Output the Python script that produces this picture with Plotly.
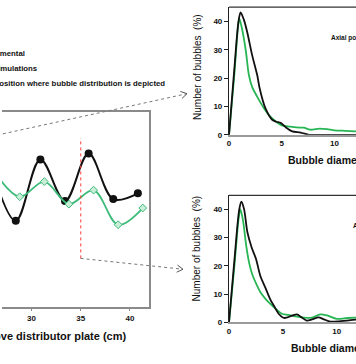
import math
import plotly.graph_objects as go

W, H = 356, 364

# ---- main chart data (height above distributor plate vs. value) ----
exp_height = [25.9, 28.4, 30.9, 33.4, 35.8, 38.3, 40.8]
exp_value = [3.60, 2.21, 3.79, 2.72, 3.94, 2.77, 2.92]
sim_height = [26.3, 28.8, 31.3, 33.8, 36.3, 38.8, 41.3]
sim_value = [3.45, 2.83, 3.22, 2.64, 3.00, 2.11, 2.54]
main_ticks = [30, 35, 40]
marked_height = 35

# ---- upper distribution ----
up_exp_d = [0, 0.5, 0.9, 1.1, 1.4, 1.74, 2.2, 2.68, 2.9, 3.46, 4.1, 4.5, 4.9, 5.4, 6.0, 6.8, 7.6, 8.2, 9, 10, 11, 12.5]
up_exp_n = [0, 23, 40, 43.2, 40.7, 36, 28, 21, 16.5, 9.3, 5.3, 4.6, 4.2, 2.6, 1.2, 0.8, 0, 0, 0, 0, 0, 0]
up_sim_d = [0, 0.5, 0.85, 0.98, 1.2, 1.58, 1.89, 2.2, 2.68, 3.3, 3.9, 4.5, 5.0, 5.6, 6.4, 7.1, 7.7, 8.6, 9.3, 10, 11, 12, 12.5]
up_sim_n = [0, 21, 38, 41, 38, 30, 21, 16.8, 13.4, 9.5, 6.5, 4.5, 3.3, 3.0, 2.6, 2.5, 1.8, 2.2, 2.0, 1.6, 1.4, 1.2, 1.1]

# ---- lower distribution ----
lo_exp_d = [0, 0.5, 0.95, 1.15, 1.4, 1.7, 2.1, 2.5, 2.9, 3.4, 3.8, 4.2, 4.6, 5.1, 5.85, 6.3, 6.7, 7.2, 7.7, 8.3, 8.8, 9.4, 10.2, 10.9, 11.7, 12.5]
lo_exp_n = [0, 22, 40, 42.7, 40, 32, 26.5, 22.5, 16.5, 12, 8.3, 5.6, 3.0, 1.5, 2.3, 2.8, 1.8, 0.6, 1.0, 1.7, 1.0, 0.2, 0.3, 0.6, 0.9, 0.8]
lo_sim_d = [0, 0.5, 0.9, 1.06, 1.3, 1.6, 1.9, 2.15, 2.6, 2.93, 3.4, 3.86, 4.4, 4.9, 5.5, 6.3, 7.0, 7.7, 8.46, 9.1, 10, 11, 11.7, 12.5]
lo_sim_n = [0, 20, 37, 40, 36, 27, 20.5, 17, 13, 10.5, 8.2, 6.4, 4.5, 3.0, 2.6, 2.0, 1.6, 1.6, 2.8, 2.4, 1.2, 1.5, 1.6, 1.5]
dist_ticks_x = [0, 5, 10]
dist_ticks_y = [0, 10, 20, 30, 40]

BLACK = "#111111"
GREEN_MAIN = "#3dbb7a"
GREEN = "#27b653"
FONT = "Liberation Sans"


def py(px):
    return 1 - px / H


def pxx(px):
    return px / W


fig = go.Figure()

# main chart
fig.add_trace(go.Scatter(x=exp_height, y=exp_value, mode="lines+markers",
                         line=dict(color=BLACK, width=2, shape="spline"),
                         marker=dict(color=BLACK, size=8),
                         xaxis="x", yaxis="y", showlegend=False))
fig.add_trace(go.Scatter(x=sim_height, y=sim_value, mode="lines+markers",
                         line=dict(color=GREEN_MAIN, width=1.8, shape="spline"),
                         marker=dict(color="#c9eed8", size=6, symbol="diamond",
                                     line=dict(color=GREEN_MAIN, width=1)),
                         xaxis="x", yaxis="y", showlegend=False))

# upper distribution
fig.add_trace(go.Scatter(x=up_sim_d, y=up_sim_n, mode="lines",
                         line=dict(color=GREEN, width=1.8, shape="spline", smoothing=0.8),
                         xaxis="x2", yaxis="y2", showlegend=False))
fig.add_trace(go.Scatter(x=up_exp_d, y=up_exp_n, mode="lines",
                         line=dict(color=BLACK, width=1.8, shape="spline", smoothing=0.8),
                         xaxis="x2", yaxis="y2", showlegend=False))

# lower distribution
fig.add_trace(go.Scatter(x=lo_sim_d, y=lo_sim_n, mode="lines",
                         line=dict(color=GREEN, width=1.8, shape="spline", smoothing=0.8),
                         xaxis="x3", yaxis="y3", showlegend=False))
fig.add_trace(go.Scatter(x=lo_exp_d, y=lo_exp_n, mode="lines",
                         line=dict(color=BLACK, width=1.8, shape="spline", smoothing=0.8),
                         xaxis="x3", yaxis="y3", showlegend=False))

tickfont = dict(family=FONT, size=8, color=BLACK, weight="bold")

layout = dict(
    width=W, height=H, margin=dict(l=0, r=0, t=0, b=0),
    paper_bgcolor="white", plot_bgcolor="white",
    xaxis=dict(domain=[0, pxx(148)], range=[27.0, 41.95], tickvals=main_ticks,
               showgrid=False, zeroline=False, showline=True, mirror=True,
               linecolor="#8a8a8a", linewidth=1.5, ticks="outside", ticklen=3,
               tickcolor="#8a8a8a", tickfont=tickfont, anchor="y"),
    yaxis=dict(domain=[py(311), py(114)], range=[0, 5], showgrid=False,
               zeroline=False, showticklabels=False, showline=True, side="right",
               linecolor="#8a8a8a", linewidth=1.5, ticks="", anchor="x"),
    xaxis2=dict(domain=[pxx(228.3), 1], range=[0, 12.05], tickvals=dist_ticks_x,
                showgrid=False, zeroline=False, showline=True, linecolor="#9a9a9a",
                linewidth=1.5, ticks="", tickfont=tickfont, anchor="y2"),
    yaxis2=dict(domain=[py(136.7), py(7.3)], range=[0, 45], tickvals=dist_ticks_y,
                showgrid=False, zeroline=False, showline=True, linecolor="#222222",
                linewidth=1.2, ticks="outside", ticklen=4, tickcolor="#222222",
                tickfont=tickfont, anchor="x2"),
    xaxis3=dict(domain=[pxx(228.3), 1], range=[0, 11.78], tickvals=dist_ticks_x,
                showgrid=False, zeroline=False, showline=True, linecolor="#9a9a9a",
                linewidth=1.5, ticks="", tickfont=tickfont, anchor="y3"),
    yaxis3=dict(domain=[py(326.7), py(198)], range=[0, 45], tickvals=dist_ticks_y,
                showgrid=False, zeroline=False, showline=True, linecolor="#222222",
                linewidth=1.2, ticks="outside", ticklen=4, tickcolor="#222222",
                tickfont=tickfont, anchor="x3"),
)
fig.update_layout(**layout)

shapes = []
# top borders of distribution plots
for top in (7.3, 198):
    shapes.append(dict(type="line", xref="paper", yref="paper",
                       x0=pxx(228.3), x1=1, y0=py(top), y1=py(top),
                       line=dict(color="#333333", width=1.3)))
# red dotted position marker
shapes.append(dict(type="line", xref="x", yref="paper", x0=marked_height, x1=marked_height,
                   y0=py(262), y1=py(140), line=dict(color="#ff3b3b", width=1, dash="dot")))


def arrow(x0, y0, x1, y1):
    out = [dict(type="line", xref="paper", yref="paper", x0=pxx(x0), y0=py(y0),
                x1=pxx(x1), y1=py(y1), line=dict(color="#777777", width=1, dash="dot"))]
    ang = math.atan2(y1 - y0, x1 - x0)
    for s in (1, -1):
        a = ang + math.pi + s * 0.55
        out.append(dict(type="line", xref="paper", yref="paper", x0=pxx(x1), y0=py(y1),
                        x1=pxx(x1 + 7 * math.cos(a)), y1=py(y1 + 7 * math.sin(a)),
                        line=dict(color="#555555", width=1)))
    return out


shapes += arrow(-5, 137, 186, 95)
shapes += arrow(79, 262, 182, 273)
fig.update_layout(shapes=shapes)

bold = dict(family=FONT, color=BLACK, weight="bold")
ann = []
# legend texts (left part cropped)
for txt, xr, yc in [("Experimental", 25, 54), ("Simulations", 38, 69.3),
                    ("Position where bubble distribution is depicted", 166, 84.3)]:
    ann.append(dict(text=txt, xref="paper", yref="paper", x=pxx(xr), y=py(yc),
                    xanchor="right", yanchor="middle", showarrow=False,
                    font=dict(size=7.8, **bold)))
# main x title
ann.append(dict(text="Height above distributor plate (cm)", xref="paper", yref="paper",
                x=pxx(127), y=py(341), xanchor="right", yanchor="middle", showarrow=False,
                font=dict(size=11, **bold)))
# distribution titles
for xl, yc in [(286, 162), (289, 353)]:
    ann.append(dict(text="Bubble diameter (mm)", xref="paper", yref="paper",
                    x=pxx(xl), y=py(yc), xanchor="left", yanchor="middle", showarrow=False,
                    font=dict(size=10.5, **bold)))
for yc in (68, 252):
    ann.append(dict(text="Number of bubbles  (%)", xref="paper", yref="paper",
                    x=pxx(196), y=py(yc), xanchor="center", yanchor="middle",
                    textangle=-90, showarrow=False,
                    font=dict(family=FONT, size=10, color=BLACK)))
for xl, yc, txt in [(329, 39, "Axial position = 55 cm"), (351, 229, "Axial position = 35 cm")]:
    ann.append(dict(text=txt, xref="paper", yref="paper", x=pxx(xl), y=py(yc),
                    xanchor="left", yanchor="middle", showarrow=False,
                    font=dict(size=6.5, **bold)))
fig.update_layout(annotations=ann)

fig.write_html("out.html")
